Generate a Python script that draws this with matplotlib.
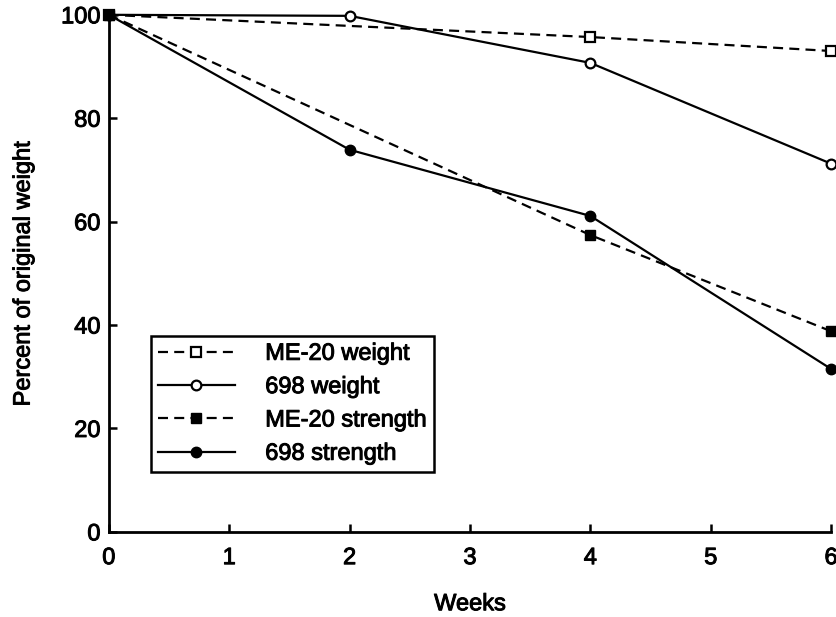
import matplotlib
matplotlib.use("Agg")
import matplotlib.pyplot as plt
import matplotlib.patheffects as pe

# data
weeks_me20 = [0, 4, 6]
me20_weight = [100, 95.7, 93.0]
me20_strength = [100, 57.4, 38.8]

weeks_698 = [0, 2, 4, 6]
w698_weight = [100, 99.8, 90.7, 71.2]
w698_strength = [100, 73.9, 61.1, 31.5]

plt.rcParams['font.family'] = ['Liberation Sans', 'DejaVu Sans']
FS = 17
heavy = [pe.withStroke(linewidth=0.7, foreground='black')]

fig = plt.figure(figsize=(8.37, 6.17), dpi=100)
ax = fig.add_axes([0.130, 0.138, 0.863, 0.838])

ms = 7
lw = 1.6
ax.plot(weeks_me20, me20_weight, 's--', color='black', mfc='white', mec='black',
        lw=lw, ms=ms, mew=1.6, dashes=(4.5, 2.8), label='ME-20 weight', clip_on=False)
ax.plot(weeks_698, w698_weight, 'o-', color='black', mfc='white', mec='black',
        lw=lw, ms=ms, mew=1.6, label='698 weight', clip_on=False)
ax.plot(weeks_me20, me20_strength, 's--', color='black', mfc='black',
        lw=lw, ms=ms, dashes=(4.5, 2.8), label='ME-20 strength', clip_on=False)
ax.plot(weeks_698, w698_strength, 'o-', color='black', mfc='black',
        lw=lw, ms=ms + 0.5, label='698 strength', clip_on=False)

ax.set_xlim(0, 6)
ax.set_ylim(0, 100)
ax.set_xticks(range(0, 7))
ax.set_yticks(range(0, 101, 20))
ax.spines['top'].set_visible(False)
ax.spines['right'].set_visible(False)
ax.spines['left'].set_linewidth(2)
ax.spines['bottom'].set_linewidth(2)
ax.tick_params(direction='in', length=6, width=1.8, labelsize=FS)
ax.tick_params(axis='x', pad=11)
ax.tick_params(axis='y', pad=6)

ax.set_xlabel('Weeks', fontsize=FS, va='center')
ax.set_ylabel('Percent of original weight', fontsize=FS, va='center')
ax.xaxis.set_label_coords(0.5, -0.14)
ax.yaxis.set_label_coords(-0.118, 0.5)

leg = ax.legend(loc='lower left', bbox_to_anchor=(0.058, 0.116), fontsize=FS,
                frameon=True, fancybox=False, edgecolor='black', framealpha=1,
                handlelength=3.25, handletextpad=1.3, borderpad=0.3,
                labelspacing=0.48, borderaxespad=0)
leg.get_frame().set_linewidth(1.8)

for t in (ax.get_xticklabels() + ax.get_yticklabels() + leg.get_texts()
          + [ax.xaxis.label, ax.yaxis.label]):
    t.set_path_effects(heavy)

fig.savefig('out.png', dpi=100)
